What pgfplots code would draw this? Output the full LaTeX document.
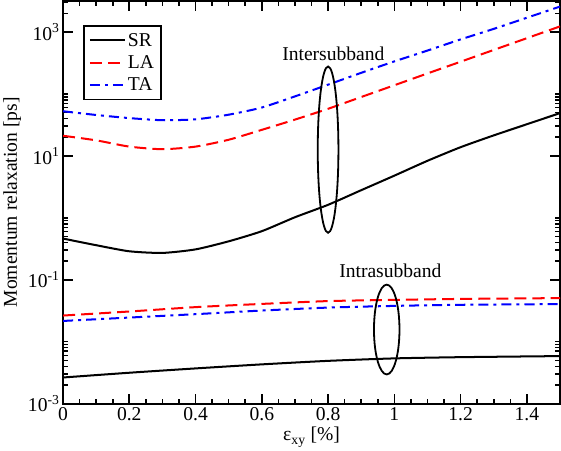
\documentclass[border=0pt]{standalone}
\usepackage{fontspec}
\setmainfont{Liberation Serif}
\usepackage{pgfplots}
\pgfplotsset{compat=1.18}

% momentum relaxation times [ps] vs shear strain
\pgfplotstableread{
x    SR     LA     TA
0.0  0.462  21.1   52.5
0.1  0.361  17.8   45.7
0.2  0.288  14.1   40.7
0.3  0.271  12.8   37.6
0.4  0.309  14.1   38.9
0.5  0.417  18.2   46.2
0.6  0.608  26.3   60.3
0.7  1.02   38.5   91.2
0.8  1.62   57.5   141
0.9  2.79   89.1   219
1.0  4.79   138    335
1.1  8.32   214    501
1.2  13.8   331    759
1.3  21.4   513    1122
1.4  32.4   794    1698
1.5  49.0   1230   2570
}\inter
\pgfplotstableread{
x    SR       LA      TA
0.0  0.00264  0.0264  0.0216
0.2  0.00315  0.0307  0.0245
0.4  0.00370  0.0361  0.0278
0.6  0.00430  0.0407  0.0318
0.8  0.00490  0.0452  0.0355
1.0  0.00537  0.0473  0.0378
1.2  0.00562  0.0490  0.0394
1.5  0.00585  0.0505  0.0404
}\intra

\begin{document}
\begin{tikzpicture}
\begin{axis}[
  scale only axis,width=495pt,height=401pt,
  ymode=log,xmin=0,xmax=1.5,ymin=1e-3,ymax=3162,
  font=\fontsize{19.5}{23}\selectfont,
  /pgf/number format/assume math mode=true,
  xtick={0,0.2,0.4,0.6,0.8,1,1.2,1.4},minor x tick num=3,
  ytick={1e-3,1e-1,1e1,1e3},
  yticklabels={10\textsuperscript{-3},10\textsuperscript{-1},10\textsuperscript{1},10\textsuperscript{3}},
  minor ytick={2e-3,3e-3,4e-3,5e-3,6e-3,7e-3,8e-3,9e-3,1e-2,
    0.2,0.3,0.4,0.5,0.6,0.7,0.8,0.9,1,
    20,30,40,50,60,70,80,90,100,2000,3000},
  tick align=inside,major tick length=10pt,minor tick length=5pt,
  axis line style={line width=2pt},
  every tick/.style={black,line width=1.6pt},
  xlabel={ε\textsubscript{xy} [\%]},
  ylabel={Momentum relaxation [ps]},
  legend style={at={(rel axis cs:0.04,0.94)},anchor=north west,
    draw=black,line width=1.8pt,row sep=4pt,inner xsep=5pt,inner ysep=5pt,
    font=\fontsize{19.5}{23}\selectfont,
    /tikz/every even column/.append style={column sep=4pt}},
  legend cell align=left,
  legend image code/.code={\draw[#1] (0pt,0pt) -- (35pt,0pt);},
]
\addplot[black,line width=2pt,smooth,tension=0.4] table[x=x,y=SR] {\inter};
\addlegendentry{SR}
\addplot[red,line width=2pt,dash pattern=on 12pt off 6pt,smooth,tension=0.4] table[x=x,y=LA] {\inter};
\addlegendentry{LA}
\addplot[blue,line width=2pt,dash pattern=on 10pt off 5pt on 3pt off 5pt,smooth,tension=0.4] table[x=x,y=TA] {\inter};
\addlegendentry{TA}
\addplot[black,line width=2pt,smooth,tension=0.4,forget plot] table[x=x,y=SR] {\intra};
\addplot[red,line width=2pt,dash pattern=on 12pt off 6pt,smooth,tension=0.4,forget plot] table[x=x,y=LA] {\intra};
\addplot[blue,line width=2pt,dash pattern=on 10pt off 5pt on 3pt off 5pt,smooth,tension=0.4,forget plot] table[x=x,y=TA] {\intra};
\draw[line width=1.8pt] (axis cs:0.8,12.6) ellipse [x radius=10.3pt,y radius=82.8pt];
\draw[line width=1.8pt] (axis cs:0.977,0.0157) ellipse [x radius=12.7pt,y radius=44.7pt];
\node at (axis cs:0.816,440) {Intersubband};
\node at (axis cs:0.988,0.138) {Intrasubband};
\end{axis}
\end{tikzpicture}
\end{document}
